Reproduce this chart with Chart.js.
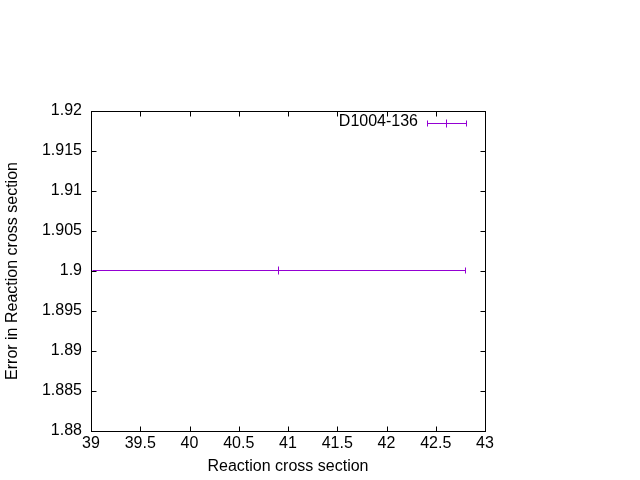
<!DOCTYPE html>
<html>
<head>
<meta charset="utf-8">
<script src="https://cdn.jsdelivr.net/npm/chart.js@4"></script>
<style>
  html, body { margin: 0; padding: 0; background: #fff; }
  #wrap { width: 640px; height: 480px; }
</style>
</head>
<body>
<div id="wrap"><canvas id="chart" width="640" height="480"></canvas></div>
<script>
// data
const seriesName = 'D1004-136';
const xValues = [40.9];
const yValues = [1.9];
const xErrors = [1.9];

const xTicks = [39, 39.5, 40, 40.5, 41, 41.5, 42, 42.5, 43];
const yTicks = [1.88, 1.885, 1.89, 1.895, 1.9, 1.905, 1.91, 1.915, 1.92];

const PURPLE = '#9400d3';
const FONT = '"Liberation Sans", Arial, sans-serif';

function fmt(v) {
    return String(parseFloat(v.toFixed(4)));
}

// gnuplot-like frame, inward ticks, error bars and key
const gnuplotLook = {
    id: 'gnuplotLook',
    afterDraw(chart) {
        const ctx = chart.ctx;
        const a = chart.chartArea;
        const xs = chart.scales.x, ys = chart.scales.y;
        const L = Math.round(a.left) + 0.5, R = Math.round(a.right) + 0.5;
        const T = Math.round(a.top) + 0.5, B = Math.round(a.bottom) + 0.5;
        const tl = 5;

        ctx.save();
        ctx.strokeStyle = '#000';
        ctx.lineWidth = 1;
        ctx.strokeRect(L, T, R - L, B - T);
        ctx.beginPath();
        xTicks.forEach(v => {
            const px = Math.round(xs.getPixelForValue(v)) + 0.5;
            ctx.moveTo(px, B); ctx.lineTo(px, B - tl);
            ctx.moveTo(px, T); ctx.lineTo(px, T + tl);
        });
        yTicks.forEach(v => {
            const py = Math.round(ys.getPixelForValue(v)) + 0.5;
            ctx.moveTo(L, py); ctx.lineTo(L + tl, py);
            ctx.moveTo(R, py); ctx.lineTo(R - tl, py);
        });
        ctx.stroke();

        // error bars
        ctx.strokeStyle = PURPLE;
        ctx.lineWidth = 1;
        xValues.forEach((x, i) => {
            const py = Math.round(ys.getPixelForValue(yValues[i])) - 0.5;
            const x0 = Math.round(xs.getPixelForValue(Math.max(x - xErrors[i], xs.min))) + 1.5;
            const x1 = Math.round(xs.getPixelForValue(Math.min(x + xErrors[i], xs.max))) + 0.5;
            const xc = Math.round(xs.getPixelForValue(x)) + 0.5;
            ctx.beginPath();
            ctx.moveTo(x0, py); ctx.lineTo(x1, py);
            ctx.moveTo(x1, py - 3); ctx.lineTo(x1, py + 3);
            ctx.moveTo(xc, py - 4); ctx.lineTo(xc, py + 4);
            ctx.stroke();
        });

        // key
        const ky = 123.5;
        const k0 = 427.5, k1 = 466.5, kc = 446.5;
        ctx.beginPath();
        ctx.moveTo(k0, ky); ctx.lineTo(k1, ky);
        ctx.moveTo(k0, ky - 3); ctx.lineTo(k0, ky + 3);
        ctx.moveTo(k1, ky - 3); ctx.lineTo(k1, ky + 3);
        ctx.moveTo(kc, ky - 4); ctx.lineTo(kc, ky + 4);
        ctx.stroke();
        ctx.fillStyle = '#000';
        ctx.font = '16px ' + FONT;
        ctx.textAlign = 'right';
        ctx.textBaseline = 'middle';
        ctx.fillText(seriesName, 418, 122);
        ctx.restore();
    }
};

new Chart(document.getElementById('chart'), {
    type: 'scatter',
    data: {
        datasets: [{
            label: seriesName,
            data: xValues.map((x, i) => ({ x: x, y: yValues[i] })),
            pointRadius: 0,
            showLine: false,
            borderColor: PURPLE,
            backgroundColor: PURPLE
        }]
    },
    options: {
        responsive: false,
        animation: false,
        events: [],
        layout: { padding: { left: 0, top: 111, right: 155, bottom: 0 } },
        plugins: { legend: { display: false }, tooltip: { enabled: false } },
        scales: {
            x: {
                type: 'linear',
                min: 39, max: 43,
                afterFit: s => { s.height = 49; },
                afterBuildTicks: s => { s.ticks = xTicks.map(v => ({ value: v })); },
                grid: { display: false },
                border: { display: false },
                ticks: { color: '#000', padding: -5, maxRotation: 0, font: { family: FONT, size: 16 }, callback: v => fmt(v) },
                title: { display: true, text: 'Reaction cross section', color: '#000', padding: 4, font: { family: FONT, size: 16 } }
            },
            y: {
                type: 'linear',
                min: 1.88, max: 1.92,
                afterFit: s => { s.width = 91; },
                afterBuildTicks: s => { s.ticks = yTicks.map(v => ({ value: v })); },
                grid: { display: false },
                border: { display: false },
                ticks: { color: '#000', padding: 1, font: { family: FONT, size: 16 }, callback: v => fmt(v) },
                title: { display: true, text: 'Error in Reaction cross section', color: '#000', padding: 3, font: { family: FONT, size: 16 } }
            }
        }
    },
    plugins: [gnuplotLook]
});
</script>
</body>
</html>
